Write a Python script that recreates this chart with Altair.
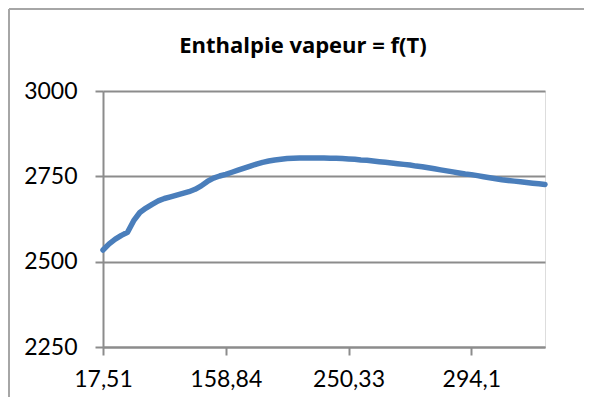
import altair as alt
import pandas as pd

# Saturation temperature (°C) for each row of the steam table (x categories)
temps = [
    17.51, 28.96, 36.16, 41.51, 45.81, 60.06, 69.10, 75.87, 81.33, 85.94,
    89.95, 93.50, 96.71, 99.63, 111.37, 120.23, 127.44, 133.55, 143.63, 151.86,
    158.84, 164.97, 170.43, 175.38, 179.91, 184.09, 187.99, 191.64, 195.07, 198.32,
    201.41, 204.34, 207.15, 212.42, 217.24, 221.78, 226.04, 230.05, 233.90, 242.60,
    250.33, 253.2, 256.0, 258.8, 261.4, 263.99, 266.4, 268.8, 271.1, 273.4,
    275.64, 277.7, 279.8, 281.9, 283.9, 285.88, 287.7, 289.6, 291.4, 292.8,
    294.1, 296.0, 297.8, 299.5, 301.1, 302.7, 304.3, 305.8, 307.3, 308.7,
    310.1, 311.5, 312.8,
]

# Vapour enthalpy (kJ/kg)
enthalpy = [
    2534, 2552, 2566, 2577, 2586, 2620, 2644, 2657, 2668, 2678,
    2685, 2690, 2695, 2700, 2705, 2712, 2722, 2735, 2745, 2751,
    2756, 2762, 2768, 2774, 2780, 2786, 2791, 2795, 2798, 2800,
    2802, 2803, 2804, 2804, 2804, 2804, 2804, 2803, 2803, 2802,
    2801, 2800, 2798, 2797, 2795, 2793, 2791, 2789, 2787, 2785,
    2783, 2780, 2778, 2775, 2772, 2769, 2766, 2763, 2760, 2757,
    2755, 2752, 2749, 2746, 2743, 2740, 2738, 2736, 2734, 2732,
    2730, 2728, 2726,
]

tick_labels = ["17,51", "158,84", "250,33", "294,1"]
y_ticks = [2250, 2500, 2750, 3000]
title_text = "Enthalpie vapeur = f(T)"

labels = [str(t).replace(".", ",") for t in temps]
df = pd.DataFrame({"T": labels, "H": enthalpy})

FONT = "Lato"
GRID = "#8c8c8c"
W, H = 442, 256
PAD_L, PAD_T, PAD_R, PAD_B = 95, 83, 39, 50

line = alt.Chart(df).mark_line(
    color="#4a7ebb", strokeWidth=5.5, strokeCap="round", strokeJoin="round"
).encode(
    x=alt.X(
        "T:O",
        sort=labels,
        scale=alt.Scale(padding=0),
        axis=alt.Axis(
            values=tick_labels, labelAngle=0, title=None, grid=False,
            domainColor=GRID, domainWidth=2, tickColor=GRID, tickWidth=2,
            tickSize=8, labelFont=FONT, labelFontSize=23, labelColor="black",
            labelPadding=13,
        ),
    ),
    y=alt.Y(
        "H:Q",
        scale=alt.Scale(domain=[2250, 3000], nice=False, zero=False),
        axis=alt.Axis(
            values=y_ticks, format="d", title=None, grid=True, gridColor=GRID,
            gridWidth=2, domainColor=GRID, domainWidth=2, tickColor=GRID,
            tickWidth=2, tickSize=8, labelFont=FONT, labelFontSize=23,
            labelColor="black", labelPadding=18,
        ),
    ),
)

title = alt.Chart(pd.DataFrame({"t": [title_text]})).mark_text(
    font="Open Sans", fontSize=22, fontWeight="bold", align="center",
    baseline="alphabetic", color="black",
).encode(text="t:N", x=alt.value(200), y=alt.value(-38))

one = pd.DataFrame({"a": [0]})
frame_left = alt.Chart(one).mark_rule(color="#a6a6a6", strokeWidth=2).encode(
    x=alt.value(-94), y=alt.value(-82), y2=alt.value(H + PAD_B)
)
frame_top = alt.Chart(one).mark_rule(color="#a6a6a6", strokeWidth=2).encode(
    x=alt.value(-94), x2=alt.value(W + PAD_R), y=alt.value(-82)
)

chart = alt.layer(frame_left, frame_top, line, title).properties(
    width=W, height=H,
    autosize=alt.AutoSizeParams(type="none"),
    padding={"left": PAD_L, "top": PAD_T, "right": PAD_R, "bottom": PAD_B},
).configure_view(stroke=None).configure(background="white")

chart.save("out.html", embed_options={"renderer": "svg", "actions": False})
